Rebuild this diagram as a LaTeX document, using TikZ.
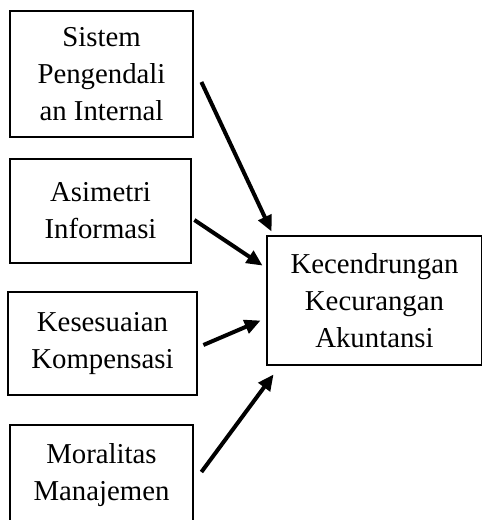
\documentclass[tikz,border=0pt]{standalone}
\usepackage{fontspec}
\setmainfont{Liberation Serif}
\usepackage{tikz}
\usetikzlibrary{arrows.meta,positioning}
\tikzset{
  varbox/.style={
    rectangle, draw=black, line width=1.4pt, fill=white,
    minimum width=#1, align=center, inner sep=2pt,
    font=\fontsize{14.4}{18.5}\selectfont
  },
  varbox/.default=91.5pt,
  effarrow/.style={
    -{Triangle[length=8pt,width=7pt]}, line width=2pt, color=black
  },
}
\begin{document}
\begin{tikzpicture}[x=0.5pt, y=-0.5pt]
  \clip (0,0) rectangle (482,520);
  \node[varbox, minimum height=63pt] at (101.5,74) (spi) {Sistem\\Pengendali\\an Internal};
  \node[varbox=90.5pt, minimum height=52pt] at (100.5,211) (asi) {Asimetri\\Informasi};
  \node[varbox=94.5pt, minimum height=51.5pt] at (102.5,343.5) (kom) {Kesesuaian\\Kompensasi};
  \node[varbox, minimum height=50pt] at (101.5,475) (mor) {Moralitas\\Manajemen};
  \node[varbox=107.5pt, minimum height=64.5pt] at (374.5,300.5) (kka) {Kecendrungan\\Kecurangan\\Akuntansi};
  % arrows into the dependent variable
  \draw[effarrow] ([shift={(3.5pt,-4pt)}]spi.east) -- ([shift={(3pt,1.5pt)}]kka.north west);
  \draw[effarrow] ([shift={(1pt,-4.5pt)}]asi.east) -- ([shift={(-1.5pt,-15.5pt)}]kka.north west);
  \draw[effarrow] ([shift={(2.5pt,-0.75pt)}]kom.east) -- ([shift={(-2.5pt,-10pt)}]kka.west);
  \draw[effarrow] ([shift={(3.5pt,1.5pt)}]mor.east) -- ([shift={(4pt,-4pt)}]kka.south west);
\end{tikzpicture}
\end{document}
